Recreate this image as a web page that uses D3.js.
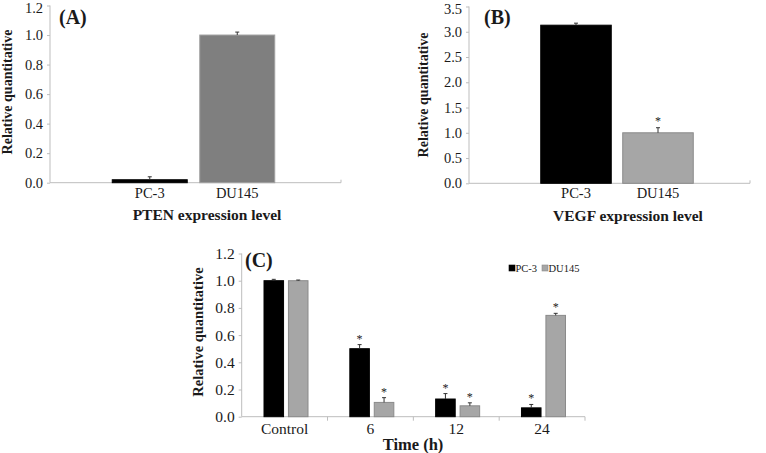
<!DOCTYPE html>
<html><head><meta charset="utf-8">
<script src="https://cdn.jsdelivr.net/npm/d3@7"></script>
<style>body{margin:0;background:#fff}svg{display:block}svg text{font-family:"Liberation Serif","Times New Roman","DejaVu Serif",serif !important;fill:#1a1a1a}</style>
</head><body><svg id="c" width="766" height="453" font-family="Liberation Serif, serif"></svg>
<script>
// Panel A: PTEN
const catsA = ["PC-3", "DU145"];
const valsA = [0.02, 1.0];
const errA = [0.02, 0.02];
const ticksA = [0, 0.2, 0.4, 0.6, 0.8, 1.0, 1.2];
// Panel B: VEGF
const catsB = ["PC-3", "DU145"];
const valsB = [3.13, 1.0];
const errB = [0.04, 0.10];
const starB = [false, true];
const ticksB = [0, 0.5, 1.0, 1.5, 2.0, 2.5, 3.0, 3.5];
// Panel C: time course
const timeC = ["Control", "6", "12", "24"];
const seriesC = ["PC-3", "DU145"];
const pc3C = [1.0, 0.50, 0.13, 0.065];
const du145C = [1.0, 0.105, 0.08, 0.745];
const pc3ErrC = [0.01, 0.03, 0.04, 0.025];
const du145ErrC = [0.005, 0.035, 0.022, 0.015];
const starC = [false, true, true, true];
const ticksC = [0, 0.2, 0.4, 0.6, 0.8, 1.0, 1.2];

const svg = d3.select("#c");
const axisCol = "#bdbdbd";
const FF = "Liberation Serif, Times New Roman, serif";

function styleAxis(g){
  g.attr("font-family", FF);
  g.selectAll("path,line").attr("stroke", axisCol);
  g.selectAll("text").attr("fill","#1a1a1a");
}

function errBar(g, x, y0, y1, w){
  g.append("line").attr("x1",x).attr("x2",x).attr("y1",y0).attr("y2",y1).attr("stroke","#333").attr("stroke-width",1);
  g.append("line").attr("x1",x-w).attr("x2",x+w).attr("y1",y1).attr("y2",y1).attr("stroke","#333").attr("stroke-width",1);
}

function simplePanel(o){
  const g = svg.append("g");
  const y = d3.scaleLinear().domain([0, o.max]).range([o.y0, o.yTop]);
  const x = d3.scaleBand().domain(o.cats).range(o.xr).paddingInner(o.pad).paddingOuter(o.pad/2);
  const ya = g.append("g").attr("transform",`translate(${o.xAxis},0)`)
    .call(d3.axisLeft(y).tickValues(o.ticks).tickFormat(d3.format(".1f")).tickSize(3).tickSizeOuter(0));
  ya.selectAll("text").attr("font-size",14.5).attr("dx",-1);
  ya.selectAll(".tick").filter(d => d === o.max).select("text").attr("dy","0.5em");
  ya.select(".domain").attr("d",`M0,${o.yTop}V${o.y0}`);
  styleAxis(ya);
  g.append("line").attr("x1",o.xAxis).attr("x2",o.xEnd).attr("y1",o.y0).attr("y2",o.y0).attr("stroke",axisCol);
  g.append("line").attr("x1",o.xEnd).attr("x2",o.xEnd).attr("y1",o.y0).attr("y2",o.y0-3).attr("stroke",axisCol);
  o.cats.forEach((c,i)=>{
    const bx = x(c), bw = x.bandwidth();
    g.append("rect").attr("x",bx).attr("y",y(o.vals[i])).attr("width",bw).attr("height",y(0)-y(o.vals[i]))
      .attr("fill",o.colors[i]).attr("stroke",o.strokes[i]).attr("stroke-width",1);
    errBar(g, bx+bw/2, y(o.vals[i]), y(o.vals[i]+o.errs[i]), 2);
    if(o.stars && o.stars[i]) g.append("text").attr("x",bx+bw/2).attr("y",y(o.vals[i]+o.errs[i])-3)
      .attr("text-anchor","middle").attr("font-size",12).text("*");
    g.append("text").attr("x",bx+bw/2).attr("y",o.y0+15).attr("text-anchor","middle").attr("font-size",14.5).text(c);
  });
  g.append("text").attr("x",o.titleX).attr("y",o.titleY).attr("text-anchor","middle").attr("font-size",15.5).attr("font-weight","bold").text(o.title);
  g.append("text").attr("transform",`translate(${o.ylabX},${o.ylabY}) rotate(-90)`).attr("text-anchor","middle")
    .attr("font-size",14).attr("font-weight","bold").text("Relative quantitative");
  g.append("text").attr("x",o.tagX).attr("y",o.tagY).attr("font-size",20).attr("font-weight","bold").text(o.tag);
}

simplePanel({cats:catsA, vals:valsA, errs:errA, ticks:ticksA, max:1.2, y0:182.7, yTop:5.5,
  xAxis:50, xEnd:341, xr:[106,281], pad:0.143, colors:["#000","#7f7f7f"], strokes:["#000","#a0a0a0"],
  title:"PTEN expression level", titleX:207, titleY:220, ylabX:12, ylabY:92, tag:"(A)", tagX:59, tagY:24});

simplePanel({cats:catsB, vals:valsB, errs:errB, stars:starB, ticks:ticksB, max:3.5, y0:183.3, yTop:6.5,
  xAxis:469, xEnd:750, xr:[535,699], pad:0.14, colors:["#000","#a6a6a6"], strokes:["#000","#8a8a8a"],
  title:"VEGF expression level", titleX:628, titleY:221, ylabX:428, ylabY:95, tag:"(B)", tagX:484, tagY:24});

// Panel C
(function(){
  const g = svg.append("g");
  const y0 = 416.7, yTop = 253.5, xL = 241.7, xR = 585;
  const y = d3.scaleLinear().domain([0,1.2]).range([y0,yTop]);
  const x0 = d3.scaleBand().domain(timeC).range([xL,xR]);
  const x1 = d3.scaleBand().domain(seriesC).range([22.3, 66.3]).paddingInner(0.2);
  const ya = g.append("g").attr("transform",`translate(${xL},0)`)
    .call(d3.axisLeft(y).tickValues(ticksC).tickFormat(d3.format(".1f")).tickSize(3).tickSizeOuter(0));
  ya.selectAll("text").attr("font-size",15.5).attr("dx",-1);
  ya.select(".domain").attr("d",`M0,${yTop}V${y0}`);
  styleAxis(ya);
  g.append("line").attr("x1",xL).attr("x2",xR).attr("y1",y0).attr("y2",y0).attr("stroke",axisCol);
  timeC.forEach((t,i)=>{
    const bx = x0(t)+x0.bandwidth();
    g.append("line").attr("x1",bx).attr("x2",bx).attr("y1",y0).attr("y2",y0+4).attr("stroke",axisCol);
    g.append("text").attr("x",x0(t)+x0.bandwidth()/2).attr("y",y0+17).attr("text-anchor","middle").attr("font-size",15.5).text(t);
  });
  const sets = [{v:pc3C,e:pc3ErrC,fill:"#000",stroke:"#000"},{v:du145C,e:du145ErrC,fill:"#a6a6a6",stroke:"#8a8a8a"}];
  timeC.forEach((t,i)=>{
    seriesC.forEach((s,j)=>{
      const d = sets[j];
      const bx = x0(t)+x1(s), bw = x1.bandwidth();
      g.append("rect").attr("x",bx).attr("y",y(d.v[i])).attr("width",bw).attr("height",y(0)-y(d.v[i]))
        .attr("fill",d.fill).attr("stroke",d.stroke);
      errBar(g, bx+bw/2, y(d.v[i]), y(d.v[i]+d.e[i]), 2);
      if(starC[i]) g.append("text").attr("x",bx+bw/2).attr("y",y(d.v[i]+d.e[i])-2).attr("text-anchor","middle").attr("font-size",12).text("*");
    });
  });
  g.append("text").attr("x",413).attr("y",450).attr("text-anchor","middle").attr("font-size",16.5).attr("font-weight","bold").text("Time (h)");
  g.append("text").attr("transform",`translate(203,332) rotate(-90)`).attr("text-anchor","middle")
    .attr("font-size",14.5).attr("font-weight","bold").text("Relative quantitative");
  g.append("text").attr("x",245).attr("y",267).attr("font-size",20).attr("font-weight","bold").text("(C)");
  const lg = g.append("g");
  const legX = [509, 542];
  seriesC.forEach((s,j)=>{
    lg.append("rect").attr("x",legX[j]).attr("y",265).attr("width",6).attr("height",6).attr("fill",sets[j].fill).attr("stroke",sets[j].stroke).attr("stroke-width",0.6);
    lg.append("text").attr("x",legX[j]+6.5).attr("y",271.5).attr("font-size",10.5).text(s);
  });
})();
</script></body></html>
